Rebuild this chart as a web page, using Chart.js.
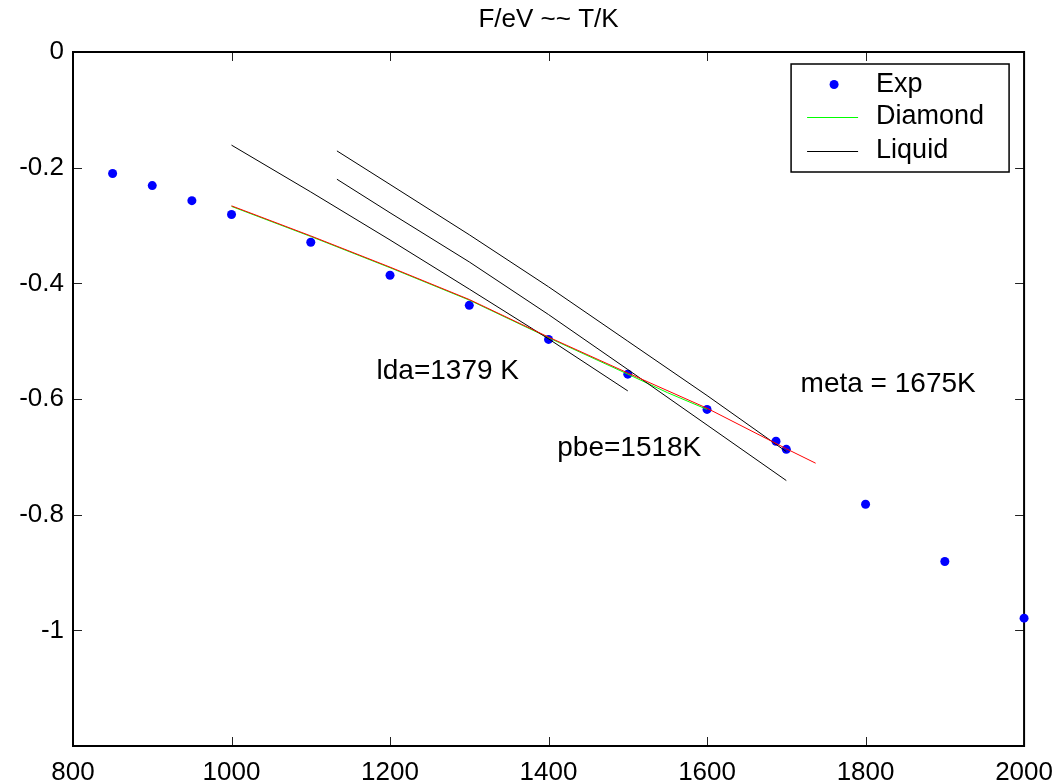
<!DOCTYPE html>
<html>
<head>
<meta charset="utf-8">
<script src="https://cdn.jsdelivr.net/npm/chart.js@4.4.1/dist/chart.umd.min.js"></script>
<style>
  html, body { margin: 0; padding: 0; background: #fff; }
  #wrap { width: 1064px; height: 784px; }
</style>
</head>
<body>
<div id="wrap"><canvas id="c" width="1064" height="784"></canvas></div>
<script>
// Axis tick values
const tempTicks = [800, 1000, 1200, 1400, 1600, 1800, 2000];
const energyTicks = [0, -0.2, -0.4, -0.6, -0.8, -1];

// Experimental free energy (eV) vs temperature (K)
const expT = [850, 900, 950, 1000, 1100, 1200, 1300, 1400, 1500, 1600, 1687, 1700, 1800, 1900, 2000];
const expF = [-0.210, -0.231, -0.257, -0.281, -0.329, -0.386, -0.438, -0.497, -0.557, -0.618, -0.673, -0.687, -0.782, -0.881, -0.979];

// Diamond phase (green) and its extended fit (red)
const diamondT = [1000, 1100, 1200, 1300, 1400, 1500, 1550, 1600];
const diamondF = [-0.267, -0.319, -0.373, -0.429, -0.494, -0.557, -0.589, -0.618];
const fitT = [1000, 1100, 1200, 1300, 1400, 1500, 1600, 1700, 1737];
const fitF = [-0.266, -0.318, -0.372, -0.428, -0.493, -0.555, -0.616, -0.686, -0.711];

// Liquid phase curves for three functionals
const ldaT = [1000, 1100, 1200, 1300, 1400, 1500];
const ldaF = [-0.161, -0.242, -0.325, -0.410, -0.496, -0.586];
const pbeT = [1133, 1200, 1300, 1400, 1500, 1600, 1700];
const pbeF = [-0.220, -0.278, -0.363, -0.454, -0.549, -0.645, -0.741];
const metaT = [1133, 1200, 1300, 1400, 1500, 1600, 1700];
const metaF = [-0.171, -0.229, -0.316, -0.406, -0.500, -0.594, -0.691];

// Crossing labels
const noteTexts = ['lda=1379 K', 'pbe=1518K', 'meta = 1675K'];
const noteAnchors = [[1183, -0.566], [1411, -0.699], [1718, -0.588]];

const FONT = "'Liberation Sans', Arial, sans-serif";

function pts(xs, ys) { return xs.map((v, i) => ({ x: v, y: ys[i] })); }

// Box round the plot with inward ticks on all four sides
const framePlugin = {
  id: 'frame',
  beforeDatasetsDraw(chart) {
    const { ctx, chartArea: a, scales: { x, y } } = chart;
    ctx.save();
    ctx.strokeStyle = '#222';
    ctx.lineWidth = 1;
    ctx.beginPath();
    x.ticks.forEach(t => {
      const px = Math.round(x.getPixelForValue(t.value)) + 0.5;
      ctx.moveTo(px, a.bottom); ctx.lineTo(px, a.bottom - 9);
      ctx.moveTo(px, a.top); ctx.lineTo(px, a.top + 9);
    });
    y.ticks.forEach(t => {
      const py = Math.round(y.getPixelForValue(t.value)) + 0.5;
      ctx.moveTo(a.left, py); ctx.lineTo(a.left + 9, py);
      ctx.moveTo(a.right, py); ctx.lineTo(a.right - 9, py);
    });
    ctx.stroke();
    ctx.strokeStyle = '#000';
    ctx.lineWidth = 2;
    ctx.strokeRect(a.left, a.top, a.right - a.left, a.bottom - a.top);
    ctx.restore();
  }
};

// Legend box inside the top-right corner of the plot
const boxLegendPlugin = {
  id: 'boxLegend',
  afterDatasetsDraw(chart) {
    const { ctx, chartArea: a } = chart;
    const items = chart.data.datasets.filter(d => d.inLegend);
    const w = 218, h = 108;
    const left = a.right - 15 - w, top = a.top + 12;
    ctx.save();
    ctx.fillStyle = '#fff';
    ctx.fillRect(left, top, w, h);
    ctx.strokeStyle = '#000';
    ctx.lineWidth = 1.5;
    ctx.strokeRect(left, top, w, h);
    const rows = [20.5, 53, 87];
    ctx.font = '27px ' + FONT;
    ctx.textBaseline = 'middle';
    ctx.textAlign = 'left';
    items.forEach((d, i) => {
      const ry = top + rows[i];
      if (d.showLine === false) {
        ctx.fillStyle = d.pointBackgroundColor;
        ctx.beginPath();
        ctx.arc(left + 43, ry, 4.5, 0, Math.PI * 2);
        ctx.fill();
      } else {
        ctx.strokeStyle = d.borderColor;
        ctx.lineWidth = 1;
        ctx.beginPath();
        ctx.moveTo(left + 16, Math.round(ry) + 0.5);
        ctx.lineTo(left + 67, Math.round(ry) + 0.5);
        ctx.stroke();
      }
      ctx.fillStyle = '#000';
      ctx.fillText(d.label, left + 85, ry);
    });
    ctx.restore();
  }
};

// Text notes placed at data coordinates
const notesPlugin = {
  id: 'notes',
  afterDatasetsDraw(chart) {
    const { ctx, scales: { x, y } } = chart;
    ctx.save();
    ctx.font = '28px ' + FONT;
    ctx.fillStyle = '#000';
    ctx.textAlign = 'left';
    ctx.textBaseline = 'alphabetic';
    noteTexts.forEach((t, i) => {
      ctx.fillText(t, x.getPixelForValue(noteAnchors[i][0]), y.getPixelForValue(noteAnchors[i][1]));
    });
    ctx.restore();
  }
};

const lineStyle = { showLine: true, pointRadius: 0, borderWidth: 1, tension: 0, fill: false };

new Chart(document.getElementById('c'), {
  type: 'scatter',
  data: {
    datasets: [
      { label: 'Exp', data: pts(expT, expF), showLine: false, pointRadius: 4.5, pointBorderWidth: 0,
        pointBackgroundColor: '#0000ff', backgroundColor: '#0000ff', borderColor: '#0000ff',
        clip: false, order: 5, inLegend: true },
      Object.assign({ label: 'Diamond', data: pts(diamondT, diamondF), borderColor: '#00ff00', order: 4, inLegend: true }, lineStyle),
      Object.assign({ label: 'Liquid', data: pts(ldaT, ldaF), borderColor: '#000000', order: 3, inLegend: true }, lineStyle),
      Object.assign({ label: 'Liquid pbe', data: pts(pbeT, pbeF), borderColor: '#000000', order: 3 }, lineStyle),
      Object.assign({ label: 'Liquid meta', data: pts(metaT, metaF), borderColor: '#000000', order: 3 }, lineStyle),
      Object.assign({ label: 'Diamond fit', data: pts(fitT, fitF), borderColor: '#ff0000', order: 1 }, lineStyle)
    ]
  },
  options: {
    responsive: false,
    animation: false,
    devicePixelRatio: 1,
    layout: { padding: { left: 0, right: 37, top: 0, bottom: 0 } },
    plugins: {
      legend: { display: false },
      tooltip: { enabled: false },
      title: {
        display: true,
        text: 'F/eV ~~ T/K',
        fullSize: false,
        color: '#000',
        font: { family: FONT, size: 26, weight: 'normal', lineHeight: 1.2 },
        padding: { top: 4, bottom: 16.8 }
      }
    },
    scales: {
      x: {
        type: 'linear',
        min: 800, max: 2000,
        afterBuildTicks: s => { s.ticks = tempTicks.map(v => ({ value: v })); },
        afterFit: s => { s.height = 38; },
        grid: { display: false, drawTicks: false },
        border: { display: false },
        ticks: { color: '#000', padding: 11, maxRotation: 0, autoSkip: false,
                 font: { family: FONT, size: 26 }, callback: v => String(v) }
      },
      y: {
        type: 'linear',
        min: -1.2, max: 0,
        afterBuildTicks: s => { s.ticks = energyTicks.map(v => ({ value: v })); },
        afterFit: s => { s.width = 73; },
        grid: { display: false, drawTicks: false },
        border: { display: false },
        ticks: { color: '#000', padding: 9, autoSkip: false,
                 font: { family: FONT, size: 26 }, callback: v => String(v) }
      }
    }
  },
  plugins: [framePlugin, boxLegendPlugin, notesPlugin]
});
</script>
</body>
</html>
